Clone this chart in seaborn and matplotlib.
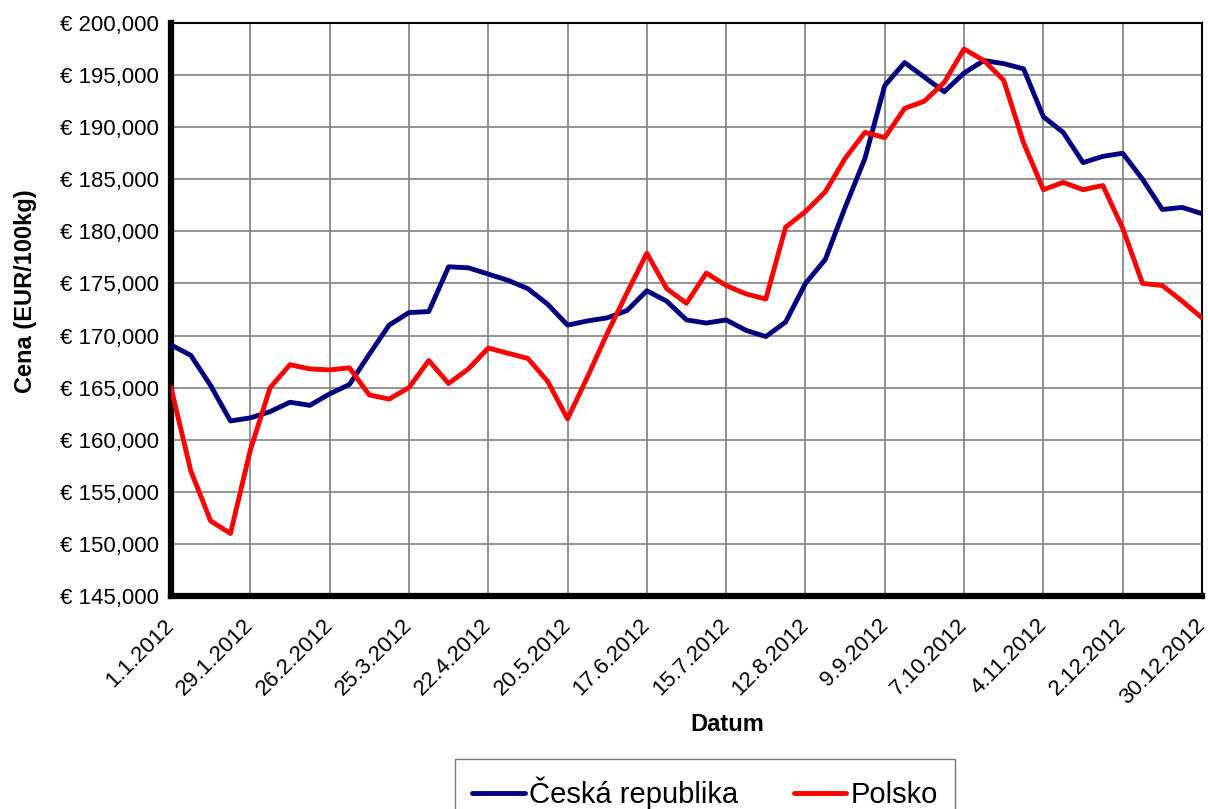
import matplotlib
matplotlib.use("Agg")
import matplotlib.pyplot as plt
import matplotlib.ticker as mticker
from matplotlib.lines import Line2D
import seaborn as sns
import pandas as pd

# weekly prices, EUR/100kg
dates = pd.date_range("2012-01-01", "2012-12-30", freq="7D")

cesko = [169.1, 168.1, 165.2, 161.8, 162.1, 162.7, 163.6, 163.3, 164.4, 165.3,
         168.2, 171.0, 172.2, 172.3, 176.6, 176.5, 175.9, 175.3, 174.5, 173.0,
         171.0, 171.4, 171.7, 172.4, 174.3, 173.3, 171.5, 171.2, 171.5, 170.5,
         169.9, 171.3, 175.0, 177.3, 182.3, 187.0, 194.0, 196.2, 194.8, 193.4,
         195.2, 196.4, 196.1, 195.6, 191.0, 189.5, 186.6, 187.2, 187.5, 185.0,
         182.1, 182.3, 181.7]

polsko = [165.0, 157.0, 152.2, 151.0, 159.0, 165.0, 167.2, 166.8, 166.7, 166.9,
          164.3, 163.9, 165.0, 167.6, 165.4, 166.8, 168.8, 168.3, 167.8, 165.6,
          162.0, 166.0, 170.2, 174.1, 177.9, 174.5, 173.1, 176.0, 174.8, 174.0,
          173.5, 180.4, 181.9, 183.8, 187.0, 189.5, 189.0, 191.8, 192.5, 194.3,
          197.5, 196.4, 194.5, 188.5, 184.0, 184.7, 184.0, 184.4, 180.3, 175.0,
          174.8, 173.3, 171.7]

series_names = ["Česká republika", "Polsko"]
colors = {"Česká republika": "#000080", "Polsko": "#FF0000"}

df = pd.concat([
    pd.DataFrame({"Datum": dates, "Cena": cesko, "Země": series_names[0]}),
    pd.DataFrame({"Datum": dates, "Cena": polsko, "Země": series_names[1]}),
])

sns.set_style("white", {"text.color": "black", "axes.labelcolor": "black",
                        "xtick.color": "black", "ytick.color": "black"})
plt.rcParams['font.family'] = ['Liberation Sans', 'DejaVu Sans']

fig = plt.figure(figsize=(12.08, 8.09), dpi=100)
ax = fig.add_axes([171 / 1208, 1 - 596 / 809, 1031 / 1208, 573 / 809])

sns.lineplot(data=df, x="Datum", y="Cena", hue="Země", palette=colors,
             linewidth=3.5, ax=ax, legend=False, zorder=3)
for line in ax.get_lines():
    line.set_solid_joinstyle("round")
    line.set_solid_capstyle("round")

ax.set_ylim(145, 200)
ax.set_xlim(dates[0], dates[-1])
ax.yaxis.set_major_locator(mticker.MultipleLocator(5))
ax.yaxis.set_major_formatter(mticker.FuncFormatter(
    lambda v, p: "€ " + f"{v:,.3f}".replace(".", ",")))

tick_dates = dates[::4]
ax.set_xticks(tick_dates)
ax.set_xticklabels([f"{d.day}.{d.month}.{d.year}" for d in tick_dates],
                   rotation=45, ha="right", va="center", rotation_mode="anchor")

ax.grid(True, color="#808080", linewidth=1.2)
ax.set_axisbelow(True)
ax.tick_params(axis="both", which="major", labelsize=16, length=5, width=2.5,
               color="black", labelcolor="black", direction="out", pad=4)
ax.tick_params(axis="x", pad=14)

for side in ["left", "bottom"]:
    ax.spines[side].set_linewidth(4.5)
    ax.spines[side].set_color("black")
for side in ["top", "right"]:
    ax.spines[side].set_linewidth(1.5)
    ax.spines[side].set_color("black")

ax.set_xlabel("Datum", fontsize=17, fontweight="bold", color="black")
ax.set_ylabel("Cena (EUR/100kg)", fontsize=17, fontweight="bold", color="black")
ax.xaxis.set_label_coords((727 - 171) / 1031, (596 - 713) / 573)
ax.yaxis.set_label_coords((37 - 171) / 1031, (596 - 291) / 573)

handles = [Line2D([], [], color=colors[n], linewidth=3.5) for n in series_names]
leg = fig.legend(handles, series_names, loc="upper center",
                 bbox_to_anchor=(705 / 1208, 1 - 759 / 809), ncol=2,
                 fontsize=21, frameon=True, fancybox=False, handlelength=1.8,
                 handletextpad=0.15, columnspacing=1.9, borderpad=0.6,
                 borderaxespad=0, labelcolor="black")
leg.get_frame().set_edgecolor("#555555")
leg.get_frame().set_linewidth(1)

fig.savefig("out.png", dpi=100)
